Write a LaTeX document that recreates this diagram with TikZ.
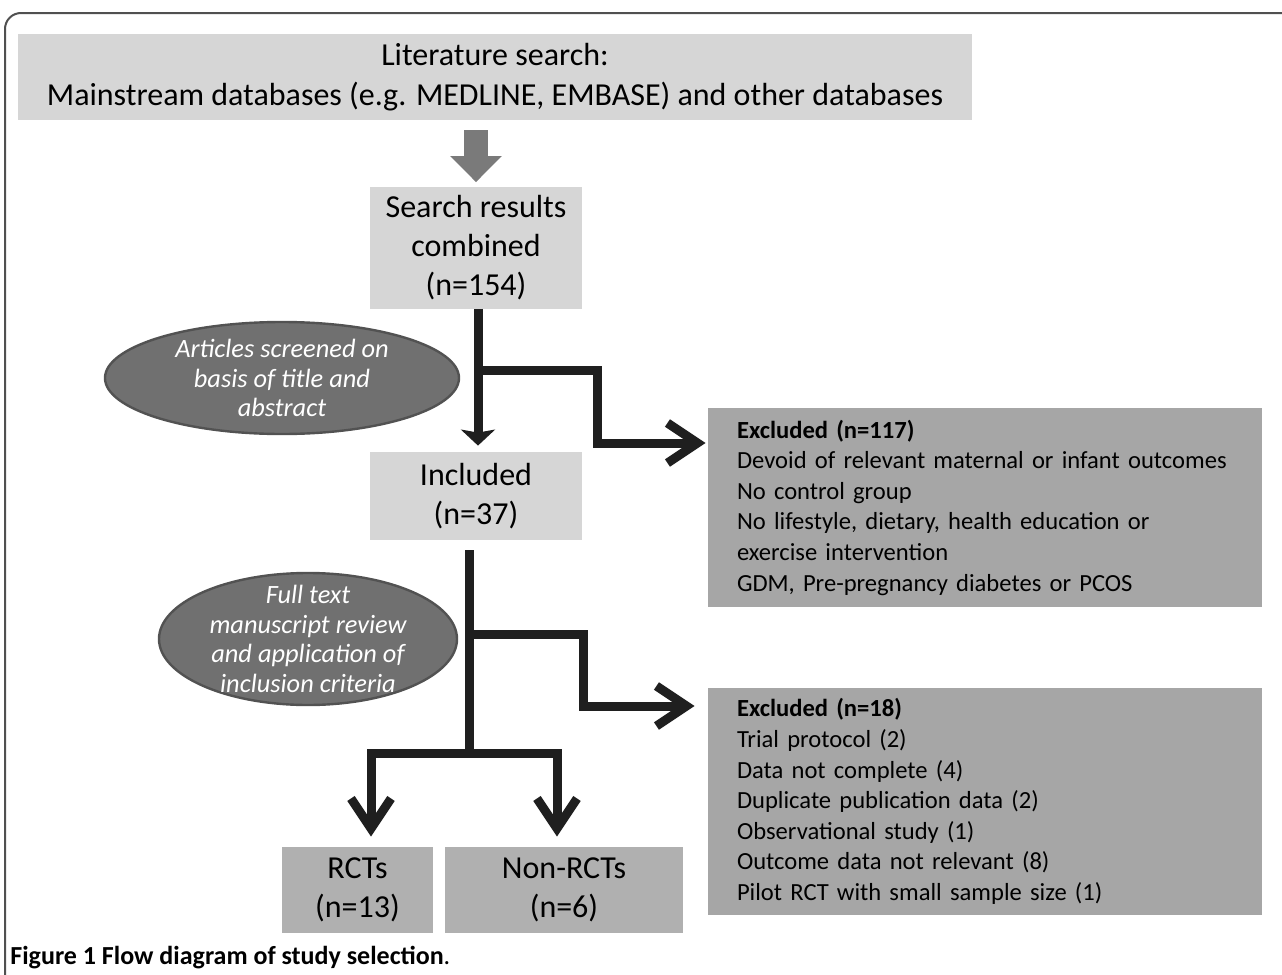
\documentclass[tikz,border=0pt]{standalone}
\usepackage{fontspec}
\setmainfont{Carlito}
\usetikzlibrary{shapes,arrows.meta}

\definecolor{boxlight}{RGB}{214,214,214}
\definecolor{boxdark}{RGB}{166,166,166}
\definecolor{boxmid}{RGB}{176,176,176}
\definecolor{ovalfill}{RGB}{112,112,112}
\definecolor{ovaledge}{RGB}{82,82,82}
\definecolor{blockgrey}{RGB}{122,122,122}
\definecolor{framegrey}{RGB}{80,80,80}

\begin{document}
\begin{tikzpicture}[x=0.5pt,y=-0.5pt,
  light box/.style={fill=boxlight,inner sep=0pt,align=center,
    font=\fontsize{16}{19.5}\selectfont},
  result box/.style={light box,fill=boxmid,minimum height=43pt},
  excl box/.style={fill=boxdark,text width=248pt,inner xsep=14.5pt,inner ysep=0pt,
    align=left,font=\fontsize{12.3}{15.3}\selectfont},
  screen oval/.style={ellipse,fill=ovalfill,draw=ovaledge,line width=1.2pt,text=white,
    inner sep=-7pt,align=center,font=\fontsize{13.2}{14.9}\selectfont\itshape},
  flow/.style={line width=4.5pt,black!88,-{Straight Barb[length=15pt,width=20pt]}},
  block arrow/.style={line width=12pt,blockgrey,-{Triangle[length=13pt,width=25pt]},
    shorten <=5pt,shorten >=2pt}]

  \useasboundingbox (0,0) rectangle (1282,975);
  \draw[framegrey,line width=1pt,rounded corners=8pt] (1282,13) -- (5,13) -- (5,975);

  \node[light box,minimum width=477pt,minimum height=43pt,font=\fontsize{16}{20}\selectfont]
    (lit) at (495,77) {Literature search:\\Mainstream databases (e.g. MEDLINE, EMBASE) and other databases};
  \node[light box,minimum width=106pt,minimum height=61pt] (search) at (476,247.5)
    {Search results\\combined\\(n=154)};
  \node[light box,minimum width=106pt,minimum height=44pt] (incl) at (476,496)
    {Included\\(n=37)};
  \node[screen oval,minimum width=177pt,minimum height=56pt] (screen) at (282,378)
    {Articles screened on\\basis of title and\\abstract};
  \node[screen oval,minimum width=149pt,minimum height=66pt] (review) at (308,639)
    {Full text\\manuscript review\\and application of\\inclusion criteria};
  \node[excl box,minimum height=99.5pt] (excl1) at (985,507.5)
    {\textbf{Excluded (n=117)}\\Devoid of relevant maternal or infant outcomes\\No control group\\
     No lifestyle, dietary, health education or\\exercise intervention\\GDM, Pre-pregnancy diabetes or PCOS};
  \node[excl box,minimum height=113.5pt] (excl2) at (985,801.5)
    {\textbf{Excluded (n=18)}\\Trial protocol (2)\\Data not complete (4)\\Duplicate publication data (2)\\
     Observational study (1)\\Outcome data not relevant (8)\\Pilot RCT with small sample size (1)};
  \node[result box,minimum width=75.5pt] (rct) at (357.5,890) {RCTs\\(n=13)};
  \node[result box,minimum width=119pt] (nonrct) at (564,890) {Non-RCTs\\(n=6)};
  \node[anchor=west,inner sep=0pt,font=\fontsize{13}{15}\selectfont] (cap) at (10,958)
    {\textbf{Figure 1 Flow diagram of study selection}.};

  \coordinate (fork1) at (478,370);
  \coordinate (bend1) at (597,443);
  \coordinate (fork2) at (469,634);
  \coordinate (bend2) at (583,706);
  \coordinate (fork3) at (469,753);

  \draw[block arrow] (lit.south -| search.north) -- (search.north);
  \draw[flow,-{Stealth[length=8pt,width=17pt,inset=1.5pt]},shorten >=3pt]
    (search.south -| fork1) -- (incl.north -| fork1);
  \draw[flow,shorten >=1pt] (fork1) -| (bend1) -- (bend1 -| excl1.west);
  \draw[line width=4.5pt,black!88,shorten <=5pt] (incl.south -| fork3) -- (fork3);
  \draw[flow,shorten >=6.5pt] (fork2) -| (bend2) -- (bend2 -| excl2.west);
  \draw[flow,shorten >=5pt] (fork3) -| ([xshift=6.75pt]rct.north);
  \draw[flow,shorten >=5pt] (fork3) -| ([xshift=-3.5pt]nonrct.north);
\end{tikzpicture}
\end{document}
